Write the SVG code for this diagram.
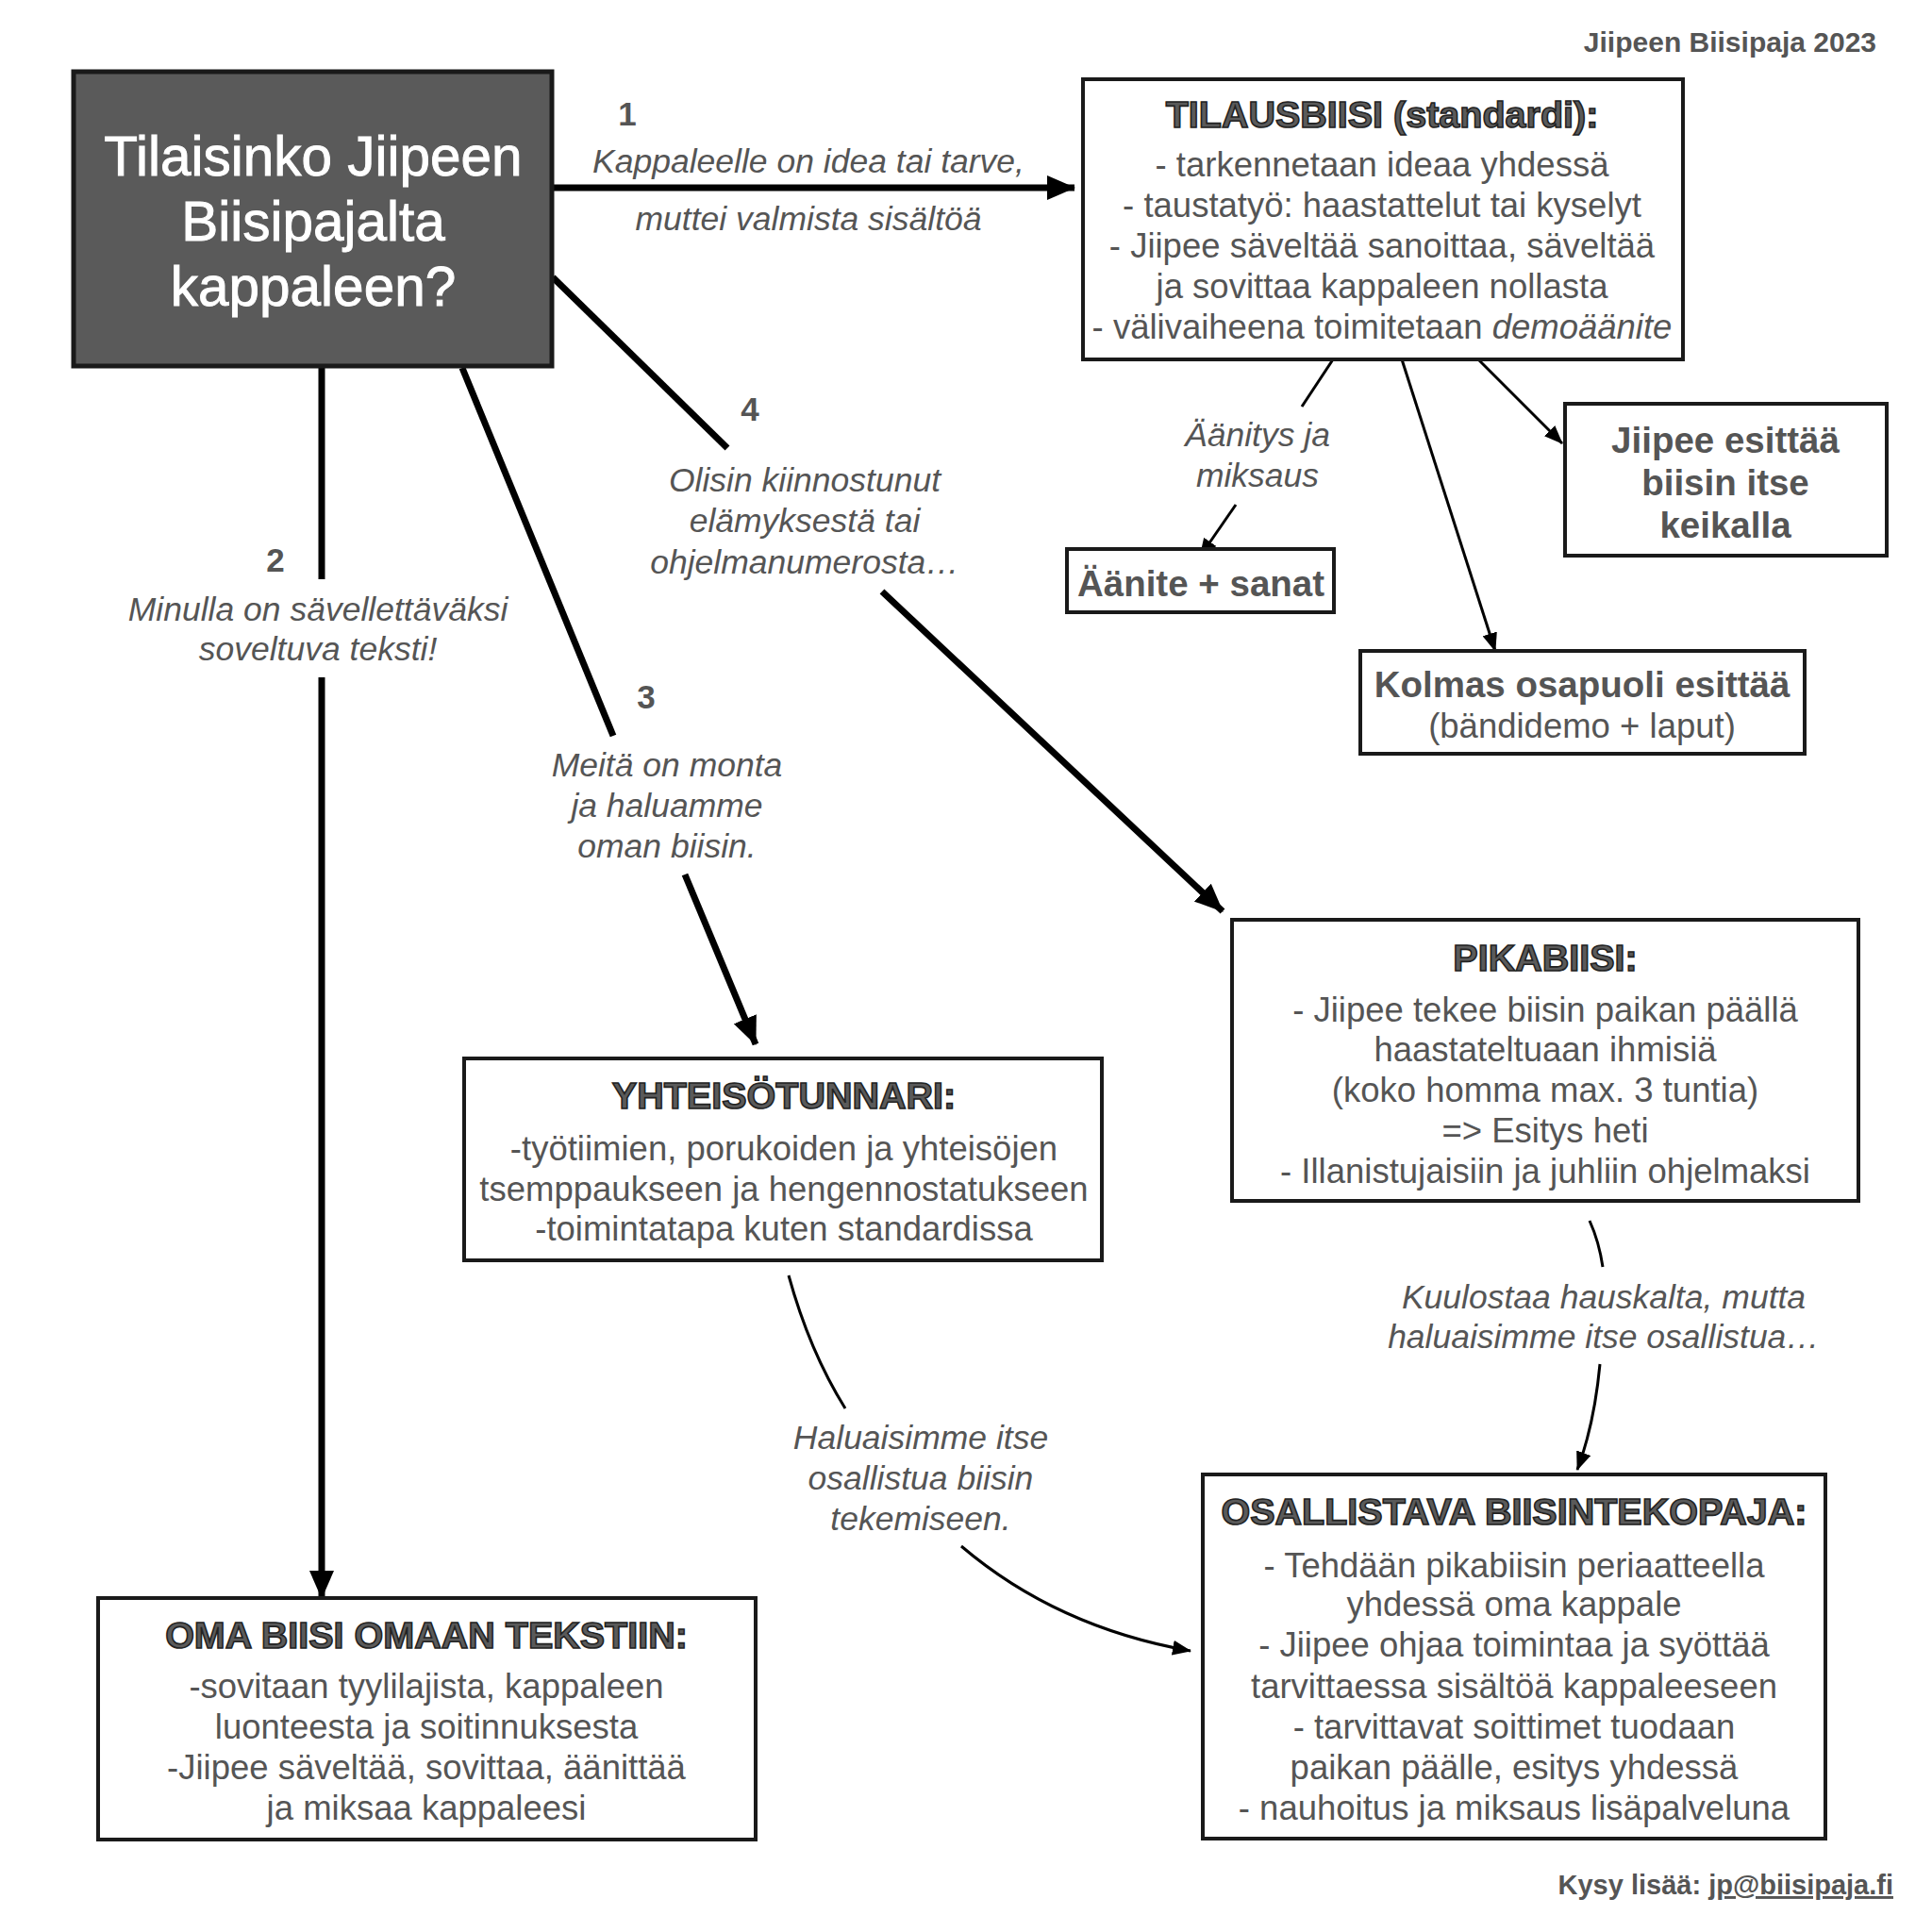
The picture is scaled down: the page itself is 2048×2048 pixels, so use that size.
<svg xmlns="http://www.w3.org/2000/svg" width="2048" height="2048" viewBox="0 0 2048 2048">
<defs>
<style>
.box{fill:#fff;stroke:#1a1a1a;stroke-width:4}
.dark{fill:#5a5a5a;stroke:#1a1a1a;stroke-width:5}
.t{font-family:"Liberation Sans",Arial,sans-serif;text-anchor:middle;fill:#555}
.body{font-size:36.5px}
.ttl{font-size:39.5px;font-weight:bold;fill:#5a5a5a;stroke:#222;stroke-width:1.6}
.bold{font-size:38.5px;font-weight:bold}
.lab{font-size:35.5px;font-style:italic}
.num{font-size:35px;font-weight:bold}
.main{font-size:58.5px;fill:#fff;stroke:#fff;stroke-width:0.9}
.thick{stroke:#000;stroke-width:7;fill:none}
.thin{stroke:#000;stroke-width:3;fill:none}
</style>
<marker id="ah" markerUnits="userSpaceOnUse" viewBox="0 0 30 26" refX="29" refY="13" markerWidth="30" markerHeight="26" orient="auto">
<path d="M0,0 L30,13 L0,26 Z" fill="#000"/>
</marker>
<marker id="ahs" markerUnits="userSpaceOnUse" viewBox="0 0 20 16" refX="19" refY="8" markerWidth="20" markerHeight="16" orient="auto">
<path d="M0,0 L20,8 L0,16 Z" fill="#000"/>
</marker>
</defs>
<rect width="2048" height="2048" fill="#fff"/>

<g id="connectors">
<line class="thick" x1="585" y1="199" x2="1139" y2="199" marker-end="url(#ah)"/>
<line class="thick" x1="341" y1="388" x2="341" y2="614"/>
<line class="thick" x1="341" y1="718" x2="341" y2="1694" marker-end="url(#ah)"/>
<line class="thick" x1="490" y1="390" x2="650" y2="780"/>
<line class="thick" x1="726" y1="927" x2="801" y2="1107" marker-end="url(#ah)"/>
<line class="thick" x1="586" y1="294" x2="771" y2="475"/>
<line class="thick" x1="935" y1="627" x2="1296" y2="966" marker-end="url(#ah)"/>
<line class="thin" x1="1417" y1="375" x2="1380" y2="431"/>
<line class="thin" x1="1310" y1="535" x2="1272" y2="590" marker-end="url(#ahs)"/>
<line class="thin" x1="1486" y1="381" x2="1585" y2="690" marker-end="url(#ahs)"/>
<line class="thin" x1="1567" y1="381" x2="1656" y2="470" marker-end="url(#ahs)"/>
<path class="thin" d="M1685,1294 Q1695,1316 1699,1343"/>
<path class="thin" d="M1696,1446 Q1690,1510 1672,1558" marker-end="url(#ahs)"/>
<path class="thin" d="M836,1352 Q858,1432 896,1493"/>
<path class="thin" d="M1019,1639 Q1120,1725 1262,1750" marker-end="url(#ahs)"/>
</g>

<g id="connector-labels">
<text class="t num" x="665" y="133">1</text>
<text class="t lab" x="857" y="183">Kappaleelle on idea tai tarve,</text>
<text class="t lab" x="857" y="244">muttei valmista sisältöä</text>
<text class="t num" x="292" y="606">2</text>
<text class="t lab" x="337" y="658">Minulla on sävellettäväksi</text>
<text class="t lab" x="337" y="700">soveltuva teksti!</text>
<text class="t num" x="685" y="751">3</text>
<text class="t lab" x="707" y="823">Meitä on monta</text>
<text class="t lab" x="707" y="866">ja haluamme</text>
<text class="t lab" x="707" y="909">oman biisin.</text>
<text class="t num" x="795" y="446">4</text>
<text class="t lab" x="853" y="521">Olisin kiinnostunut</text>
<text class="t lab" x="853" y="564">elämyksestä tai</text>
<text class="t lab" x="853" y="608">ohjelmanumerosta…</text>
<text class="t lab" x="1333" y="473">Äänitys ja</text>
<text class="t lab" x="1333" y="516">miksaus</text>
<text class="t lab" x="1700" y="1387">Kuulostaa hauskalta, mutta</text>
<text class="t lab" x="1700" y="1429">haluaisimme itse osallistua…</text>
<text class="t lab" x="976" y="1536">Haluaisimme itse</text>
<text class="t lab" x="976" y="1579">osallistua biisin</text>
<text class="t lab" x="976" y="1622">tekemiseen.</text>
</g>

<g id="main">
<rect class="dark" x="78" y="76" width="507" height="312"/>
<text class="t main" x="332" y="186">Tilaisinko Jiipeen</text>
<text class="t main" x="332" y="255">Biisipajalta</text>
<text class="t main" x="332" y="324">kappaleen?</text>
</g>

<g id="tilausbiisi">
<rect class="box" x="1148" y="84" width="636" height="297"/>
<text class="t ttl" x="1465" y="135">TILAUSBIISI (standardi):</text>
<text class="t body" x="1465" y="187">- tarkennetaan ideaa yhdessä</text>
<text class="t body" x="1465" y="230">- taustatyö: haastattelut tai kyselyt</text>
<text class="t body" x="1465" y="273">- Jiipee säveltää sanoittaa, säveltää</text>
<text class="t body" x="1465" y="316">ja sovittaa kappaleen nollasta</text>
<text class="t body" x="1465" y="359">- välivaiheena toimitetaan <tspan font-style="italic">demoäänite</tspan></text>
</g>

<g id="jiipee-esittaa">
<rect class="box" x="1659" y="428" width="341" height="161"/>
<text class="t bold" x="1829" y="480">Jiipee esittää</text>
<text class="t bold" x="1829" y="525">biisin itse</text>
<text class="t bold" x="1829" y="570">keikalla</text>
</g>

<g id="aanite">
<rect class="box" x="1131" y="582" width="283" height="67"/>
<text class="t bold" x="1273" y="632">Äänite + sanat</text>
</g>

<g id="kolmas">
<rect class="box" x="1442" y="690" width="471" height="109"/>
<text class="t bold" x="1677" y="739">Kolmas osapuoli esittää</text>
<text class="t body" x="1677" y="782">(bändidemo + laput)</text>
</g>

<g id="pikabiisi">
<rect class="box" x="1306" y="975" width="664" height="298"/>
<text class="t ttl" x="1638" y="1029">PIKABIISI:</text>
<text class="t body" x="1638" y="1083">- Jiipee tekee biisin paikan päällä</text>
<text class="t body" x="1638" y="1125">haastateltuaan ihmisiä</text>
<text class="t body" x="1638" y="1168">(koko homma max. 3 tuntia)</text>
<text class="t body" x="1638" y="1211">=&gt; Esitys heti</text>
<text class="t body" x="1638" y="1254">- Illanistujaisiin ja juhliin ohjelmaksi</text>
</g>

<g id="yhteisotunnari">
<rect class="box" x="492" y="1122" width="676" height="214"/>
<text class="t ttl" x="831" y="1175">YHTEISÖTUNNARI:</text>
<text class="t body" x="831" y="1230">-työtiimien, porukoiden ja yhteisöjen</text>
<text class="t body" x="831" y="1273">tsemppaukseen ja hengennostatukseen</text>
<text class="t body" x="831" y="1315">-toimintatapa kuten standardissa</text>
</g>

<g id="osallistava">
<rect class="box" x="1275" y="1563" width="660" height="386"/>
<text class="t ttl" x="1605" y="1616">OSALLISTAVA BIISINTEKOPAJA:</text>
<text class="t body" x="1605" y="1672">- Tehdään pikabiisin periaatteella</text>
<text class="t body" x="1605" y="1713">yhdessä oma kappale</text>
<text class="t body" x="1605" y="1756">- Jiipee ohjaa toimintaa ja syöttää</text>
<text class="t body" x="1605" y="1800">tarvittaessa sisältöä kappaleeseen</text>
<text class="t body" x="1605" y="1843">- tarvittavat soittimet tuodaan</text>
<text class="t body" x="1605" y="1886">paikan päälle, esitys yhdessä</text>
<text class="t body" x="1605" y="1929">- nauhoitus ja miksaus lisäpalveluna</text>
</g>

<g id="oma-biisi">
<rect class="box" x="104" y="1694" width="697" height="256"/>
<text class="t ttl" x="452" y="1747">OMA BIISI OMAAN TEKSTIIN:</text>
<text class="t body" x="452" y="1800">-sovitaan tyylilajista, kappaleen</text>
<text class="t body" x="452" y="1843">luonteesta ja soitinnuksesta</text>
<text class="t body" x="452" y="1886">-Jiipee säveltää, sovittaa, äänittää</text>
<text class="t body" x="452" y="1929">ja miksaa kappaleesi</text>
</g>

<g id="header-footer">
<text class="t" x="1989" y="55" style="text-anchor:end;font-size:30px;font-weight:bold">Jiipeen Biisipaja 2023</text>
<text class="t" x="2007" y="2008" style="text-anchor:end;font-size:29px;font-weight:bold">Kysy lisää: <tspan text-decoration="underline">jp@biisipaja.fi</tspan></text>
</g>
</svg>
